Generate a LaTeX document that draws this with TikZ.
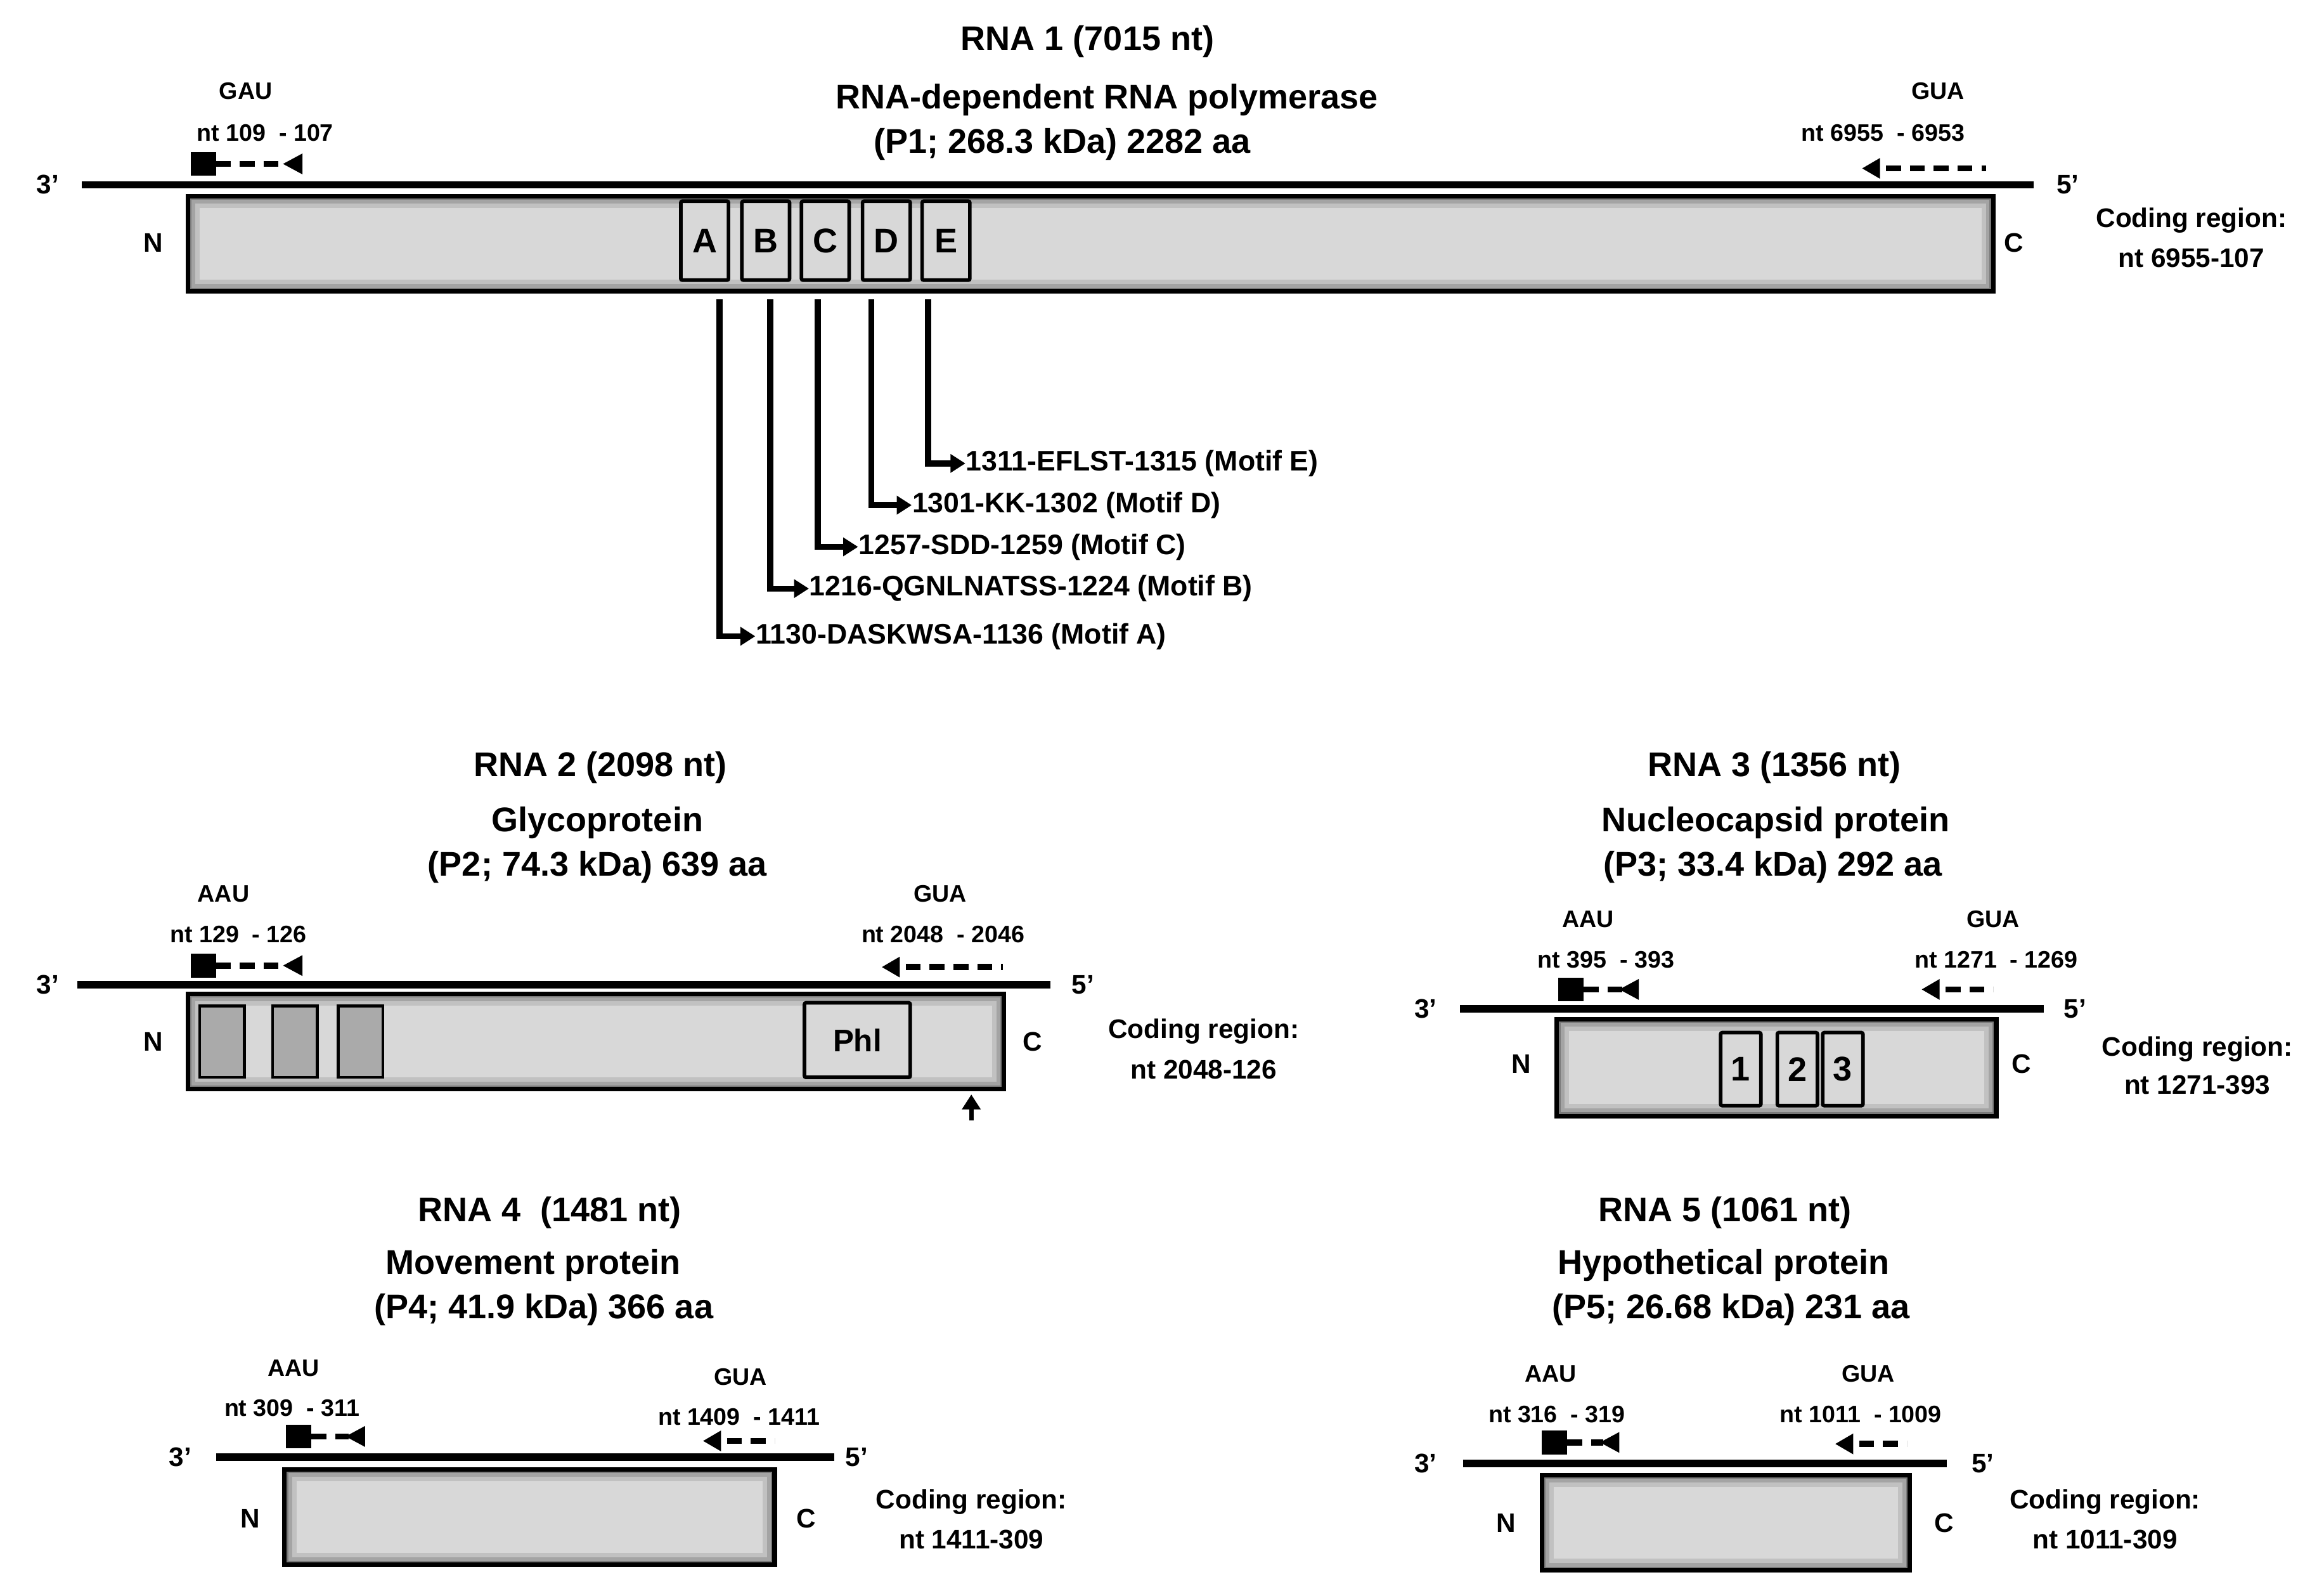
\documentclass[tikz,border=0pt]{standalone}
\usepackage{fontspec}
\setmainfont{Liberation Sans}
\usetikzlibrary{arrows.meta}
\begin{document}
\begin{tikzpicture}[x=0.5pt,y=-0.5pt,
  title/.style={font=\bfseries\fontsize{11.5}{13}\selectfont},
  sm/.style={font=\bfseries\fontsize{8}{9}\selectfont},
  mid/.style={font=\bfseries\fontsize{9}{10}\selectfont},
  mot/.style={font=\bfseries\fontsize{9.5}{11}\selectfont,anchor=west,inner sep=0pt},
  rna/.style={line width=2.5pt},
  prot/.style={draw,line width=1.5pt,fill={rgb,255:red,216;green,216;blue,216},
    path picture={
      \draw[black,line width=8pt,opacity=.10] (path picture bounding box.south west) rectangle (path picture bounding box.north east);
      \draw[black,line width=5pt,opacity=.15] (path picture bounding box.south west) rectangle (path picture bounding box.north east);
      \draw[black,line width=2.5pt,opacity=.25] (path picture bounding box.south west) rectangle (path picture bounding box.north east);}},
  motif/.style={draw,line width=1.2pt,fill={rgb,255:red,216;green,216;blue,216},rounded corners=0.5pt},
  dbox/.style={draw,line width=1pt,fill={rgb,255:red,170;green,170;blue,170}},
  conn/.style={line width=2pt,-{Triangle[length=5pt,width=6pt]}},
  dsh/.style={line width=2pt,dash pattern=on 5pt off 3pt},
]
\useasboundingbox (0,0) rectangle (1560,1066);
% start marker: square + dashes + left triangle
\newcommand{\startm}[3]{% x of square left, y center, x of triangle tip
  \fill (#1,#2-8) rectangle (#1+17,#2+8);
  \draw[dsh] (#1+17,#2) -- (#3+2,#2);
  \fill (#3,#2) -- (#3+13,#2-7) -- (#3+13,#2+7) -- cycle;}
\newcommand{\stopm}[3]{% x tip, y, x end
  \fill (#1,#2) -- (#1+12,#2-7) -- (#1+12,#2+7) -- cycle;
  \draw[line width=2pt,dash pattern=on 5pt off 3pt] (#1+16,#2) -- (#3,#2);}

% ================= RNA 1
\node[title] (t1) at (730,28) {RNA 1 (7015 nt)};
\node[title] (p1) at (743,67) {RNA-dependent RNA polymerase};
\node[title] (q1) at (713,97) {(P1; 268.3 kDa) 2282 aa};
\node[sm] (g1a) at (165,61) {GAU};
\node[sm] (g1b) at (178,89) {nt 109 \ - 107};
\node[sm] (g1c) at (1301,61) {GUA};
\node[sm] (g1d) at (1264,89) {nt 6955 \ - 6953};
\draw[rna] (55,124) -- (1365,124);
\node[mid] at (32,124) {3’};
\node[mid] at (1388,124) {5’};
\startm{128}{110}{190}
\stopm{1250}{113}{1333}
\node[prot,minimum width=606pt,minimum height=32pt] (b1) at (732,163.5) {};
\node[mid] at (103,163) {N};
\node[mid] at (1352,163) {C};
\node[mid] at (1471,148) {Coding region:};
\node[mid] at (1471,173) {nt 6955-107};
\foreach \n/\x in {A/473,B/514,C/554,D/595,E/635}
  \node[motif,minimum width=16pt,minimum height=26.5pt,font=\bfseries\fontsize{11.5}{13}\selectfont] (m\n) at (\x,161.5) {\n};
\node[mot] (lA) at (507,427) {1130-DASKWSA-1136 (Motif A)};
\node[mot] (lB) at (543,395) {1216-QGNLNATSS-1224 (Motif B)};
\node[mot] (lC) at (576,367) {1257-SDD-1259 (Motif C)};
\node[mot] (lD) at (612,339) {1301-KK-1302 (Motif D)};
\node[mot] (lE) at (648,311) {1311-EFLST-1315 (Motif E)};
\foreach \n/\x in {A/483,B/517,C/549,D/585,E/623}{
  \coordinate (s\n) at (\x,201);
  \draw[conn] (s\n) |- (l\n.west);}

% ================= RNA 2
\node[title] at (403,515) {RNA 2 (2098 nt)};
\node[title] at (401,552) {Glycoprotein};
\node[title] at (401,582) {(P2; 74.3 kDa) 639 aa};
\node[sm] at (150,600) {AAU};
\node[sm] at (160,627) {nt 129 \ - 126};
\node[sm] at (631,600) {GUA};
\node[sm] at (633,627) {nt 2048 \ - 2046};
\draw[rna] (52,661) -- (705,661);
\node[mid] at (32,661) {3’};
\node[mid] at (727,661) {5’};
\startm{128}{648}{190}
\stopm{592}{649}{673}
\node[prot,minimum width=274pt,minimum height=32pt] (b2) at (400,699) {};
\foreach \x/\k in {149/1,198/2,242/3}
  \node[dbox,minimum width=15pt,minimum height=24pt] (d\k) at (\x,699) {};
\node[motif,minimum width=35.5pt,minimum height=25pt,font=\bfseries\fontsize{10.5}{12}\selectfont] (phl) at (575.5,698) {Phl};
\node[mid] at (103,699) {N};
\node[mid] at (693,699) {C};
\node[mid] at (808,692) {Coding region:};
\node[mid] at (808,718) {nt 2048-126};
\coordinate (u2) at (652,752);
\draw[line width=1.5pt,-{Triangle[length=5pt,width=6pt]}] (u2) -- ([yshift=-1pt]b2.south -| u2);

% ================= RNA 3
\node[title] at (1191,515) {RNA 3 (1356 nt)};
\node[title] at (1192,552) {Nucleocapsid protein};
\node[title] at (1190,582) {(P3; 33.4 kDa) 292 aa};
\node[sm] at (1066,617) {AAU};
\node[sm] at (1078,644) {nt 395 \ - 393};
\node[sm] at (1338,617) {GUA};
\node[sm] at (1340,644) {nt 1271 \ - 1269};
\draw[rna] (980,677) -- (1372,677);
\node[mid] at (957,677) {3’};
\node[mid] at (1393,677) {5’};
\startm{1046}{664}{1087}
\stopm{1290}{664}{1338}
\node[prot,minimum width=147.5pt,minimum height=32.5pt] (b3) at (1192.5,716.5) {};
\foreach \x/\k in {1168.5/1,1206.5/2,1237/3}
  \node[motif,minimum width=13.5pt,minimum height=24.5pt,font=\bfseries\fontsize{11.5}{13}\selectfont] (n\k) at (\x,717.5) {\k};
\node[mid] at (1021,714) {N};
\node[mid] at (1357,714) {C};
\node[mid] at (1475,704) {Coding region:};
\node[mid] at (1475,728) {nt 1271-393};

% ================= RNA 4
\node[title] at (369,814) {RNA 4 \ (1481 nt)};
\node[title] at (358,849) {Movement protein};
\node[title] at (365,879) {(P4; 41.9 kDa) 366 aa};
\node[sm] at (197,918) {AAU};
\node[sm] at (196,945) {nt 309 \ - 311};
\node[sm] at (497,924) {GUA};
\node[sm] at (496,951) {nt 1409 \ - 1411};
\draw[rna] (145,978) -- (560,978);
\node[mid] at (121,978) {3’};
\node[mid] at (575,978) {5’};
\startm{192}{964}{232}
\stopm{472}{967}{520}
\node[prot,minimum width=164.5pt,minimum height=32pt] (b4) at (355.5,1018) {};
\node[mid] at (168,1019) {N};
\node[mid] at (541,1019) {C};
\node[mid] at (652,1008) {Coding region:};
\node[mid] at (652,1033) {nt 1411-309};

% ================= RNA 5
\node[title] at (1158,814) {RNA 5 (1061 nt)};
\node[title] at (1157,849) {Hypothetical protein};
\node[title] at (1162,879) {(P5; 26.68 kDa) 231 aa};
\node[sm] at (1041,922) {AAU};
\node[sm] at (1045,949) {nt 316 \ - 319};
\node[sm] at (1254,922) {GUA};
\node[sm] at (1249,949) {nt 1011 \ - 1009};
\draw[rna] (982,982) -- (1307,982);
\node[mid] at (957,982) {3’};
\node[mid] at (1331,982) {5’};
\startm{1035}{968}{1074}
\stopm{1232}{969}{1280}
\node[prot,minimum width=123.5pt,minimum height=32pt] (b5) at (1158.5,1022) {};
\node[mid] at (1011,1022) {N};
\node[mid] at (1305,1022) {C};
\node[mid] at (1413,1008) {Coding region:};
\node[mid] at (1413,1033) {nt 1011-309};
\end{tikzpicture}
\end{document}
